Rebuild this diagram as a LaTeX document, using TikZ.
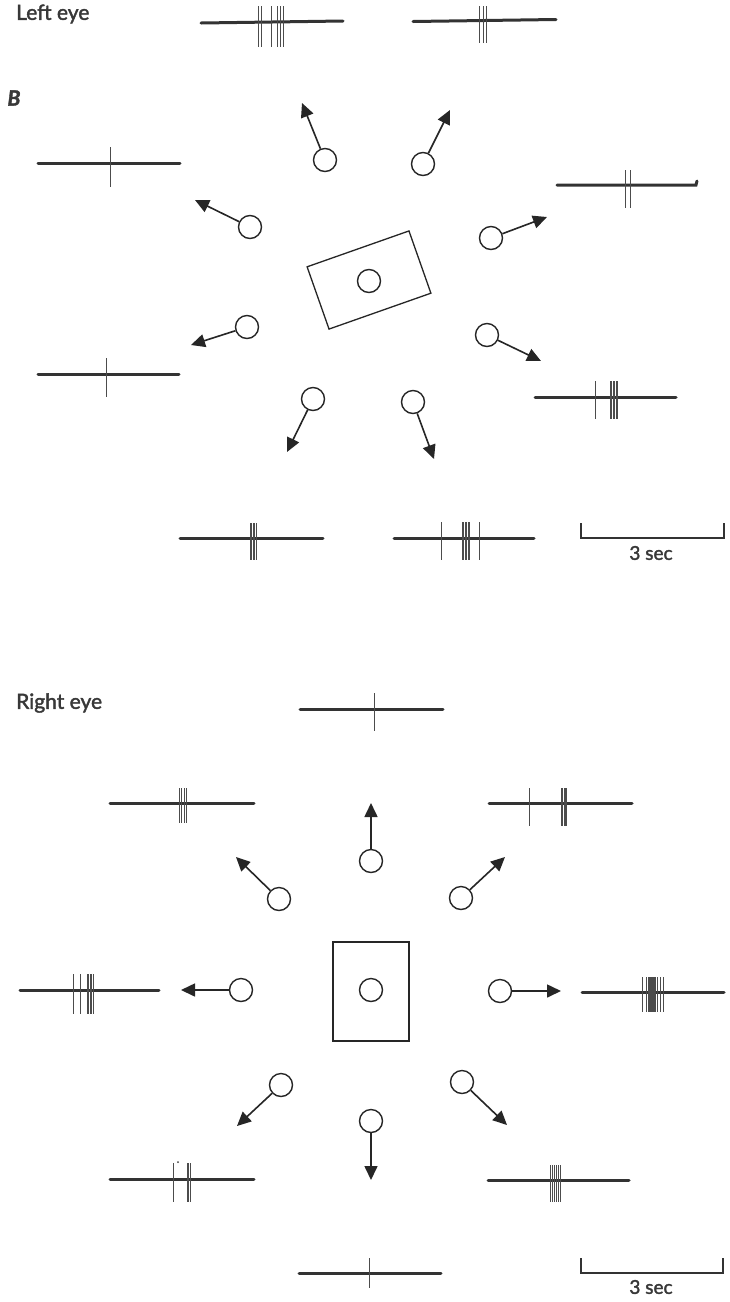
\documentclass[tikz,border=0pt]{standalone}
\usepackage{fontspec}
\setmainfont{Lato}
\newfontfamily\lblfont{Lato}[FakeBold=1.8]
\usetikzlibrary{arrows.meta}
\begin{document}
\begin{tikzpicture}[x=1pt,y=-1pt,
  trc/.style={line width=3pt, draw=black!80, line cap=round},
  spk/.style={line width=0.7pt, draw=black!70},
  bar/.style={line width=2.2pt, draw=black!80},
  ball/.style={circle, draw=black!85, line width=1.4pt, minimum size=23pt, inner sep=0pt},
  arr/.style={line width=1.6pt, draw=black!85, -{Triangle[length=14pt,width=13pt]}},
  box/.style={draw=black!85, line width=1.3pt, inner sep=0pt},
  lbl/.style={text=black!78, font=\lblfont\fontsize{21}{25}\selectfont, inner sep=0pt},
  sec/.style={text=black!78, font=\lblfont\fontsize{19}{22}\selectfont, inner sep=0pt}
]
\useasboundingbox[fill=white] (0,0) rectangle (729,1302);

% ---------- Left eye strip ----------
\node[lbl, anchor=west] (lefteye) at (16,14) {Left eye};
\draw[trc] (201,23) -- (343,21);
\foreach \x in {258,261,271,277,280,283} \draw[spk] (\x,6) -- (\x,47);
\draw[trc] (413,21.5) -- (556,19.5);
\foreach \x in {479,483,486} \draw[spk] (\x,6) -- (\x,43);

% ---------- B ----------
\node[lbl, font=\lblfont\bfseries\itshape\fontsize{21}{24}\selectfont] (labB) at (14,98) {B};

\node[box, rotate=19.4, minimum width=108pt, minimum height=66pt] (rectB) at (369,280) {};
\node[ball] (cB) at (369,281) {};

\node[ball] (b1) at (325,160) {}; \coordinate (tb1) at (302,103);
\node[ball] (b2) at (423,164) {}; \coordinate (tb2) at (450,110);
\node[ball] (b3) at (250,227) {}; \coordinate (tb3) at (195,200);
\node[ball] (b4) at (491,238) {}; \coordinate (tb4) at (547,217);
\node[ball] (b5) at (247,327) {}; \coordinate (tb5) at (191,345);
\node[ball] (b6) at (487,335) {}; \coordinate (tb6) at (541,361);
\node[ball] (b7) at (313,399) {}; \coordinate (tb7) at (287,452);
\node[ball] (b8) at (413,402) {}; \coordinate (tb8) at (434,459);
\foreach \i in {1,...,8} \draw[arr] (b\i) -- (tb\i);

% traces B
\draw[trc] (38,163) -- (180,163);
\draw[spk] (110,147) -- (110,187);
\draw[trc] (557,185) -- (696,185) -- (697,181);
\foreach \x in {625,630} \draw[spk] (\x,170) -- (\x,208);
\draw[trc] (38,374) -- (179,374);
\draw[spk] (106,358) -- (106,397);
\draw[trc] (535,397) -- (676,397);
\foreach \x in {595,610,611.5,613,614.5,616,617} \draw[spk] (\x,381) -- (\x,419);
\draw[trc] (180,538) -- (323,538);
\foreach \x in {250,251.5,253,254.5,256} \draw[spk] (\x,523) -- (\x,560);
\draw[trc] (394,538) -- (534,538);
\foreach \x in {441,462,463.5,465,466.5,468,469,479} \draw[spk] (\x,522) -- (\x,560);
\draw[bar] (581,523) -- (581,538) -- (724,538) -- (724,523);
\node[sec] (secB) at (651,553) {3 sec};

% ---------- Right eye ----------
\node[lbl, anchor=west] (righteye) at (16,703) {Right eye};

\node[box, minimum width=76pt, minimum height=99pt] (rectR) at (371,991.5) {};
\node[ball] (cR) at (371,990) {};

\node[ball] (r1) at (371,861) {};  \coordinate (tr1) at (371,803);
\node[ball] (r2) at (279,899) {};  \coordinate (tr2) at (236,857);
\node[ball] (r3) at (461,898) {};  \coordinate (tr3) at (505,857);
\node[ball] (r4) at (241,990) {};  \coordinate (tr4) at (181,990);
\node[ball] (r5) at (500,991) {};  \coordinate (tr5) at (561,991);
\node[ball] (r6) at (281,1085) {}; \coordinate (tr6) at (237,1126);
\node[ball] (r7) at (371,1121) {}; \coordinate (tr7) at (371,1180);
\node[ball] (r8) at (462,1082) {}; \coordinate (tr8) at (507,1125);
\foreach \i in {1,...,8} \draw[arr] (r\i) -- (tr\i);

% traces right eye
\draw[trc] (300,709) -- (443,709);
\draw[spk] (374,693) -- (374,731);
\draw[trc] (110,803) -- (254,803);
\foreach \x in {179,181.5,184,186.5} \draw[spk] (\x,788) -- (\x,823);
\draw[trc] (489,803) -- (632,803);
\foreach \x in {529,561,562.5,564,565,566} \draw[spk] (\x,788) -- (\x,826);
\draw[trc] (20,990) -- (159,990);
\foreach \x in {73,80,87,88.5,90,91.5,93} \draw[spk] (\x,974) -- (\x,1014);
\draw[trc] (582,992) -- (724,992);
\foreach \x in {642,646,648,649,650,651,652,653,654,655,657,660,663} \draw[spk] (\x,977) -- (\x,1012);
\draw[trc] (110,1179) -- (254,1179);
\foreach \x in {173,187,188.5,190} \draw[spk] (\x,1163) -- (\x,1202);
\fill[black!75] (178,1162) circle (1pt);
\draw[trc] (488,1180) -- (629,1180);
\foreach \x in {550,552,554,556,558,560} \draw[spk] (\x,1165) -- (\x,1202);
\draw[trc] (299,1273) -- (441,1273);
\draw[spk] (369,1258) -- (369,1288);
\draw[bar] (581,1258) -- (581,1273) -- (723,1273) -- (723,1258);
\node[sec] (secR) at (651,1287) {3 sec};
\end{tikzpicture}
\end{document}
